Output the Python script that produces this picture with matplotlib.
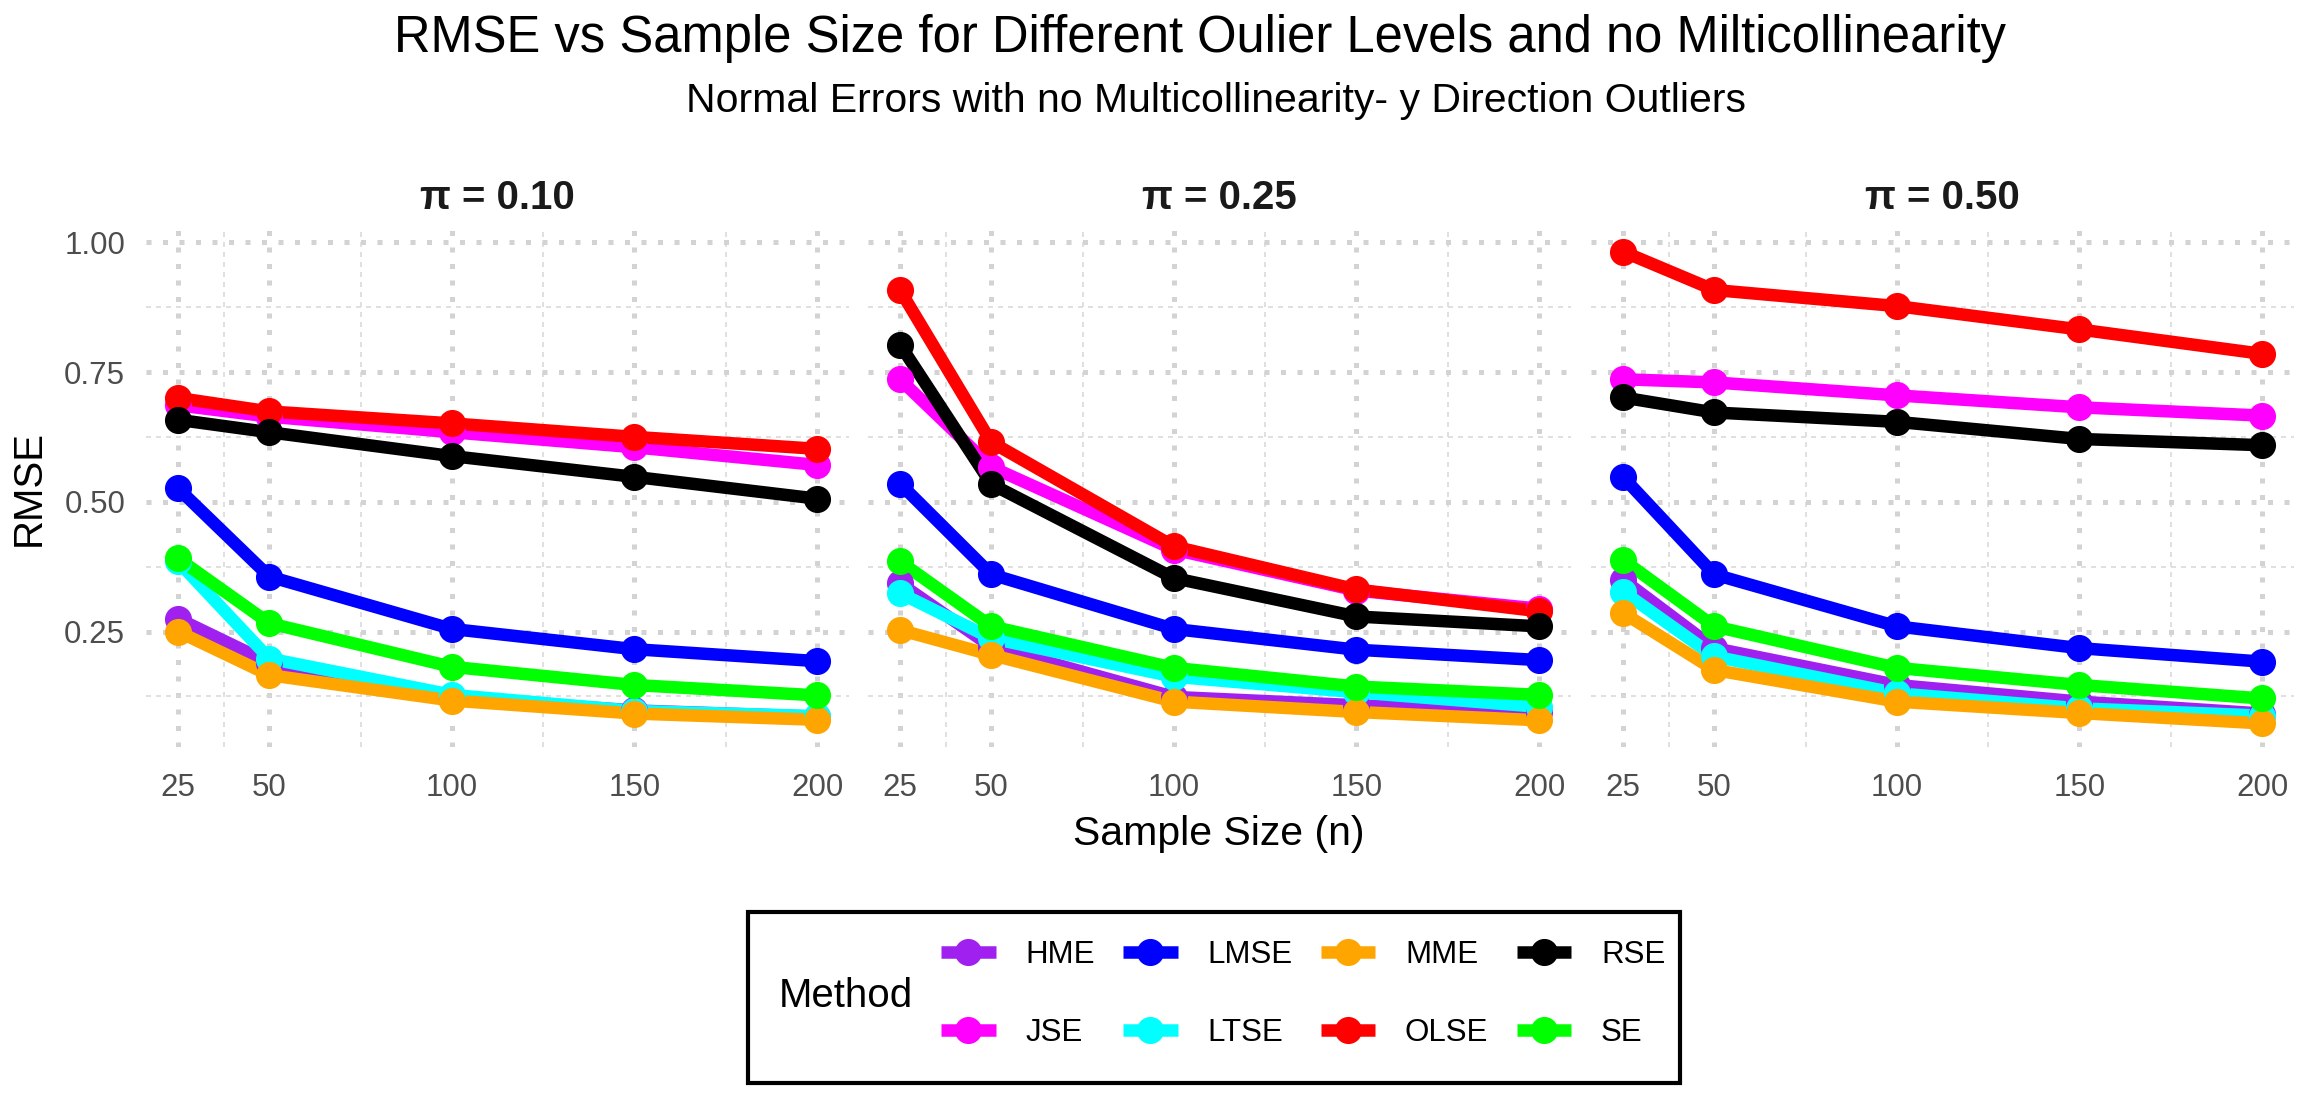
#!/usr/bin/env python3

import matplotlib
matplotlib.use('Agg')
from matplotlib import pyplot as plt
from matplotlib.lines import Line2D
from matplotlib.patches import Rectangle

plt.rcParams['font.family'] = ['Liberation Sans', 'DejaVu Sans']

# sample sizes on the x axis and the three outlier levels (one panel each)
SAMPLE_SIZES = [25, 50, 100, 150, 200]
PI_LEVELS = ['0.10', '0.25', '0.50']

# RMSE per method, one list per panel (pi = 0.10, 0.25, 0.50)
HME = [[0.275, 0.190, 0.122, 0.098, 0.086],
       [0.343, 0.221, 0.124, 0.108, 0.095],
       [0.350, 0.218, 0.147, 0.115, 0.092]]
JSE = [[0.686, 0.664, 0.634, 0.605, 0.571],
       [0.736, 0.567, 0.408, 0.329, 0.294],
       [0.736, 0.730, 0.705, 0.682, 0.666]]
LMSE = [[0.526, 0.356, 0.255, 0.216, 0.193],
        [0.535, 0.360, 0.255, 0.215, 0.195],
        [0.548, 0.360, 0.260, 0.218, 0.192]]
LTSE = [[0.385, 0.198, 0.128, 0.097, 0.087],
        [0.324, 0.237, 0.163, 0.133, 0.105],
        [0.327, 0.202, 0.131, 0.102, 0.088]]
MME = [[0.250, 0.166, 0.117, 0.092, 0.080],
       [0.253, 0.205, 0.115, 0.095, 0.079],
       [0.286, 0.176, 0.115, 0.093, 0.073]]
OLSE = [[0.700, 0.674, 0.651, 0.625, 0.602],
        [0.908, 0.615, 0.414, 0.331, 0.289],
        [0.982, 0.908, 0.877, 0.832, 0.785]]
RSE = [[0.658, 0.634, 0.588, 0.548, 0.506],
       [0.803, 0.534, 0.353, 0.279, 0.260],
       [0.701, 0.672, 0.654, 0.621, 0.609]]
SE = [[0.391, 0.266, 0.182, 0.147, 0.127],
      [0.385, 0.260, 0.180, 0.144, 0.128],
      [0.388, 0.260, 0.180, 0.147, 0.121]]

METHODS = ['HME', 'JSE', 'LMSE', 'LTSE', 'MME', 'OLSE', 'RSE', 'SE']
SERIES = [HME, JSE, LMSE, LTSE, MME, OLSE, RSE, SE]
COLORS = ['#A020F0', '#FF00FF', '#0000FF', '#00FFFF', '#FFA500', '#FF0000', '#000000', '#00FF00']

X_MINOR = [37.5, 75, 125, 175]
Y_MAJOR = [0.25, 0.50, 0.75, 1.00]
Y_MINOR = [0.125, 0.375, 0.625, 0.875]

W, H = 2311, 1109
LW = 9.0
MS = 18.5


def px_rect(left, top, width, height):
  return [left / W, 1 - (top + height) / H, width / W, height / H]


def main():
  fig = plt.figure(figsize=(W / 100, H / 100), dpi=100)

  all_vals = [v for s in SERIES for panel in s for v in panel]
  lo, hi = min(all_vals), max(all_vals)
  ypad = 0.05 * (hi - lo)
  xpad = 0.05 * (max(SAMPLE_SIZES) - min(SAMPLE_SIZES))

  lefts = [146, 868, 1591]
  for p, left in enumerate(lefts):
    ax = fig.add_axes(px_rect(left, 228, 703, 519))
    for s, c in zip(SERIES, COLORS):
      ax.plot(SAMPLE_SIZES, s[p], color=c, linewidth=LW, solid_capstyle='butt', zorder=2)
    for s, c in zip(SERIES, COLORS):
      ax.plot(SAMPLE_SIZES, s[p], linestyle='none', marker='o', markersize=MS,
              markerfacecolor=c, markeredgecolor=c, zorder=3)

    ax.set_xlim(min(SAMPLE_SIZES) - xpad, max(SAMPLE_SIZES) + xpad)
    ax.set_ylim(lo - ypad, hi + ypad)
    ax.set_xticks(SAMPLE_SIZES)
    ax.set_xticks(X_MINOR, minor=True)
    ax.set_yticks(Y_MAJOR)
    ax.set_yticks(Y_MINOR, minor=True)
    ax.set_xticklabels([str(n) for n in SAMPLE_SIZES])
    if p == 0:
      ax.set_yticklabels([f'{v:.2f}' for v in Y_MAJOR])
    else:
      ax.set_yticklabels([])
    ax.tick_params(which='both', length=0, labelsize=22.5, labelcolor='#4D4D4D')
    ax.tick_params(axis='x', pad=18.5)
    ax.tick_params(axis='y', pad=15)

    ax.grid(which='minor', color='#DADADA', linewidth=1.2, linestyle=(0, (3, 3)))
    ax.grid(which='major', color='#D3D3D3', linewidth=3.6, linestyle=(0, (1, 2.3)))
    ax.set_axisbelow(True)
    for sp in ax.spines.values():
      sp.set_visible(False)

    ax.set_title(f'\u03c0 = {PI_LEVELS[p]}', fontsize=29, fontweight='bold',
                 color='#1A1A1A', pad=14)

  fig.text(1200 / W, 1 - 52 / H,
           'RMSE vs Sample Size for Different Oulier Levels and no Milticollinearity',
           fontsize=36.5, ha='center', va='baseline')
  fig.text(1216 / W, 1 - 112 / H,
           'Normal Errors with no Multicollinearity- y Direction Outliers',
           fontsize=29.5, ha='center', va='baseline')
  fig.text(1219 / W, 1 - 845 / H, 'Sample Size (n)', fontsize=29.5,
           ha='center', va='baseline')
  fig.text(29 / W, 1 - 488 / H, 'RMSE', fontsize=29, rotation=90,
           ha='center', va='center')

  # legend: keys in a 2x4 grid, title on the left, all inside one box
  handles = [Line2D([], [], color=c, linewidth=LW, marker='o', markersize=MS,
                    solid_capstyle='butt') for c in COLORS]
  fig.legend(handles, METHODS, ncol=4, loc='center left',
             bbox_to_anchor=(941 / W, 1 - 994 / H), frameon=False, fontsize=22.5,
             handlelength=1.75, handletextpad=0.95, columnspacing=0.9,
             labelspacing=1.55, borderpad=0, borderaxespad=0)
  fig.text(779 / W, 1 - 996 / H, 'Method', fontsize=29, ha='left', va='center')
  fig.add_artist(Rectangle((748 / W, 1 - 1083 / H), (1680 - 748) / W, (1083 - 912) / H,
                           transform=fig.transFigure, fill=False,
                           edgecolor='black', linewidth=3))

  fig.savefig('out.png', dpi=100)


if __name__ == '__main__':
  main()
